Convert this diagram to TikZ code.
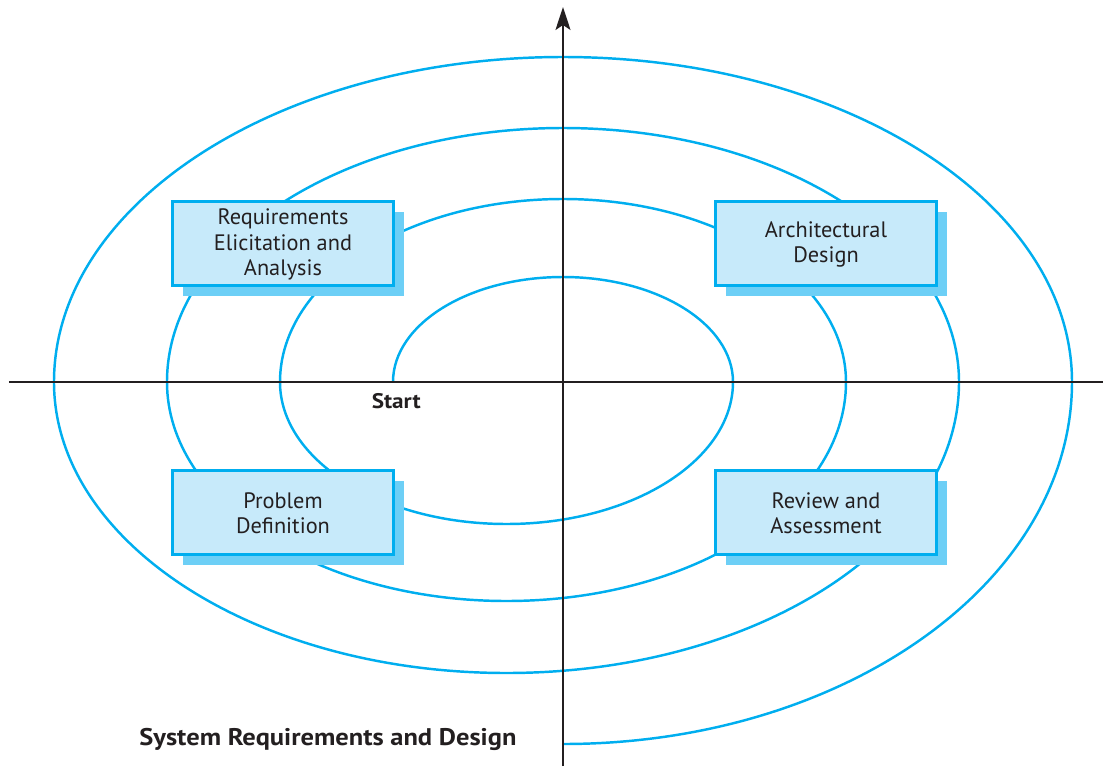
\documentclass[tikz,border=0pt]{standalone}
\usepackage{fontspec}
\setmainfont{PT Sans}
\newfontfamily\tagfont{PT Sans}[FakeStretch=1.1]
\usetikzlibrary{arrows.meta,shadows}

\definecolor{spiralblue}{HTML}{00AEEF}
\definecolor{phasefill}{HTML}{C7EAFA}
\definecolor{phaseshadow}{HTML}{6DCFF6}
\definecolor{inkgray}{HTML}{231F20}

\begin{document}
\begin{tikzpicture}[
  spiral/.style={draw=spiralblue, line width=1.4pt},
  axis/.style={draw=inkgray, line width=1.1pt},
  phase/.style={draw=spiralblue, line width=1.7pt, fill=phasefill, text=inkgray,
    align=center, minimum width=4.42cm, minimum height=1.68cm,
    font=\fontsize{12.7}{14.4}\selectfont,
    drop shadow={shadow xshift=0.21cm, shadow yshift=-0.21cm, fill=phaseshadow, opacity=1}},
  tag/.style={text=inkgray, inner sep=0pt, anchor=base west}
]
\useasboundingbox (-11.26,-7.68) rectangle (10.8,7.64);

% the spiral
\draw[spiral] (-3.4,0)
  arc[start angle=180, end angle=0, x radius=3.4cm, y radius=2.1cm]
  arc[start angle=0, end angle=-180, x radius=4.53cm, y radius=2.84cm]
  arc[start angle=180, end angle=0, x radius=5.66cm, y radius=3.66cm]
  arc[start angle=0, end angle=-180, x radius=6.79cm, y radius=4.38cm]
  arc[start angle=180, end angle=0, x radius=7.92cm, y radius=5.08cm]
  arc[start angle=0, end angle=-180, x radius=9.05cm, y radius=5.82cm]
  arc[start angle=180, end angle=0, x radius=10.18cm, y radius=6.5cm]
  arc[start angle=0, end angle=-90, x radius=10.18cm, y radius=7.24cm];

% axes
\coordinate (west) at (-11.08, 0.0);
\coordinate (east) at (10.8, 0.0);
\coordinate (south) at (0.0, -7.68);
\coordinate (north) at (0.0, 7.5);
\draw[axis] (west) -- (east);
\draw[axis, -{Stealth[length=0.46cm, width=0.3cm, inset=0.1cm]}] (south) -- (north);

% phases
\node[phase] (elicit) at (-5.6, 2.77) {\strut Requirements\\Elicitation and\\Analysis};
\node[phase] (arch) at (5.26, 2.77) {\strut Architectural\\Design};
\node[phase] (problem) at (-5.6, -2.61) {\strut Problem\\Definition};
\node[phase] (review) at (5.26, -2.61) {\strut Review and\\Assessment};

\node[tag, font=\tagfont\bfseries\fontsize{12}{14}\selectfont] (start) at (-3.83, -0.52) {Start};
\node[tag, font=\tagfont\bfseries\fontsize{13.7}{16}\selectfont] (title) at (-8.48, -7.26) {System Requirements and Design};

\end{tikzpicture}
\end{document}
